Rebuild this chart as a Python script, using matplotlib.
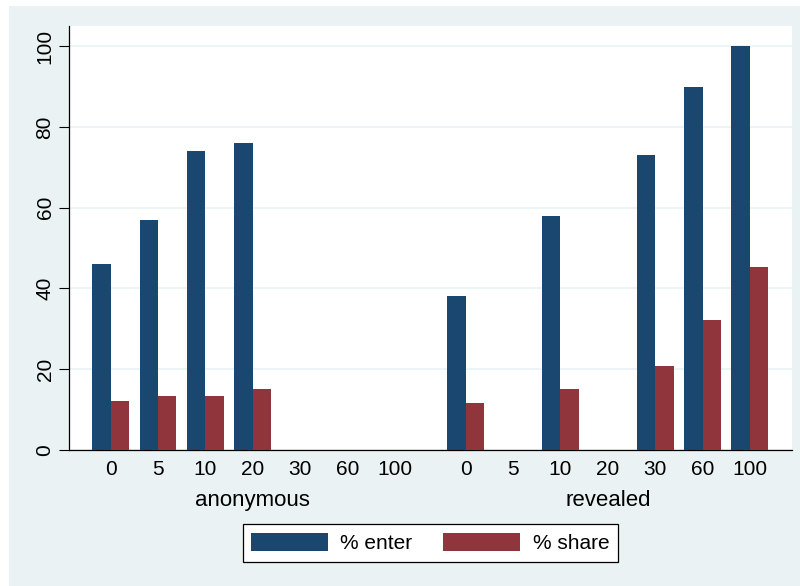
import matplotlib.pyplot as plt
from matplotlib.patches import Rectangle
import numpy as np

plt.rcParams['font.family'] = ['Liberation Sans', 'DejaVu Sans']

# categories (fee levels) for each treatment
levels = ['0', '5', '10', '20', '30', '60', '100']
groups = ['anonymous', 'revealed']

# % enter / % share, None where no bar is drawn
anon_enter = [46, 57, 74, 76, None, None, None]
anon_share = [12.2, 13.4, 13.4, 15.2, None, None, None]
rev_enter = [38.1, None, 58, None, 73, 90, 100]
rev_share = [11.7, None, 15.1, None, 20.7, 32.1, 45.4]

navy = '#1a476f'
maroon = '#90353b'
bg = '#eaf2f3'

fig = plt.figure(figsize=(8, 5.86), dpi=100)
fig.patch.set_facecolor('white')
fig.patches.append(Rectangle((9 / 800, 0), 1, 1 - 6 / 586, transform=fig.transFigure,
                             facecolor=bg, edgecolor='none', zorder=-10))

ax = fig.add_axes([68.5 / 800, 1 - 450 / 586, (792 - 68.5) / 800, (450 - 26) / 586])
ax.set_facecolor('white')

n = len(levels)
pos_anon = np.arange(n)
pos_rev = np.arange(n) + n + 0.5
w = 0.39


def draw(pos, vals, off, color):
    xs = [p + off for p, v in zip(pos, vals) if v is not None]
    ys = [v for v in vals if v is not None]
    ax.bar(xs, ys, width=w, color=color, edgecolor='none', zorder=3)


draw(pos_anon, anon_enter, -w / 2, navy)
draw(pos_anon, anon_share, w / 2, maroon)
draw(pos_rev, rev_enter, -w / 2, navy)
draw(pos_rev, rev_share, w / 2, maroon)

ax.set_xlim(-0.89, pos_rev[-1] + 0.89)
ax.set_ylim(0, 105)

ax.set_yticks([0, 20, 40, 60, 80, 100])
ax.set_yticklabels(['0', '20', '40', '60', '80', '100'], rotation=90, va='center', fontsize=15)
ax.yaxis.grid(True, color=bg, linewidth=1.2, zorder=0)
ax.tick_params(axis='y', length=7, width=0.8, pad=3)

ax.set_xticks(np.concatenate([pos_anon, pos_rev]))
ax.set_xticklabels(levels + levels, fontsize=15)
ax.tick_params(axis='x', length=0, pad=7)

for s in ['top', 'right']:
    ax.spines[s].set_visible(False)
ax.spines['left'].set_linewidth(0.9)
ax.spines['bottom'].set_linewidth(0.9)

# group labels under the fee levels
ax.text(pos_anon.mean(), -12.4, groups[0], ha='center', va='center', fontsize=16)
ax.text(pos_rev.mean(), -12.4, groups[1], ha='center', va='center', fontsize=16)

h1 = Rectangle((0, 0), 1, 1, facecolor=navy)
h2 = Rectangle((0, 0), 1, 1, facecolor=maroon)
leg = fig.legend([h1, h2], ['% enter', '% share'], loc='center',
                 bbox_to_anchor=(430 / 800, 1 - 543 / 586), ncol=2, fontsize=15,
                 handlelength=3.7, handleheight=1.0, columnspacing=1.5, handletextpad=0.58,
                 frameon=True, fancybox=False, edgecolor='black', facecolor='white',
                 framealpha=1, borderpad=0.4)
leg.get_frame().set_linewidth(0.9)

plt.savefig('out.png', dpi=100, facecolor=fig.get_facecolor())
